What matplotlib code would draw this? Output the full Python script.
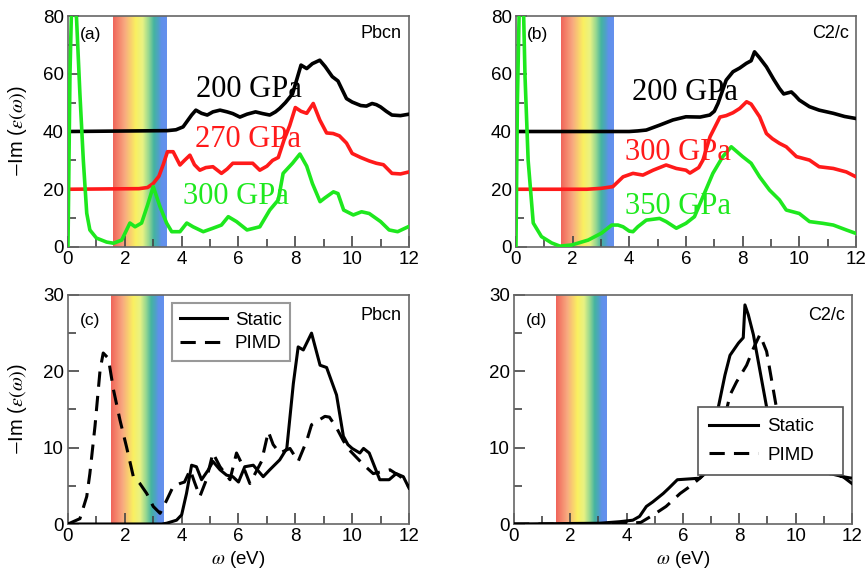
import numpy as np
import matplotlib
matplotlib.use("Agg")
import matplotlib.pyplot as plt
from matplotlib.colors import LinearSegmentedColormap

plt.rcParams['font.family'] = ['Liberation Sans', 'DejaVu Sans']
plt.rcParams['mathtext.fontset'] = 'stix'

# ---------------- data ----------------
a_x_200 = [0, 3.5, 3.8, 4.05, 4.35, 4.5, 4.7, 4.9, 5.1, 5.35, 5.6, 5.8, 6.05, 6.3, 6.6, 6.85, 7.1, 7.3, 7.45, 7.65,
           7.9, 8.05, 8.2, 8.4, 8.6, 8.86, 9.05, 9.3, 9.5, 9.8, 10.0, 10.3, 10.5, 10.7, 10.85, 11.0, 11.2, 11.4, 11.7, 12.0]
a_y_200 = [40, 40.3, 40.6, 41.6, 45.7, 47.4, 46.3, 45.7, 46.8, 47.4, 46.8, 46.2, 45.0, 46.0, 46.8, 46.2, 45.7, 46.8, 48.0, 50.0,
           53.0, 58, 63, 61.8, 63.5, 64.7, 62.5, 59.0, 57.5, 51.4, 50.2, 49.0, 48.8, 49.7, 49.3, 48.5, 47.0, 45.7, 45.5, 46.0]

a_x_270 = [0, 2.5, 2.8, 3.0, 3.2, 3.35, 3.5, 3.7, 3.94, 4.1, 4.29, 4.45, 4.64, 4.85, 5.1, 5.4, 5.6, 5.8, 6.1, 6.5, 6.75,
           7.0, 7.2, 7.4, 7.6, 7.8, 8.0, 8.2, 8.4, 8.63, 8.86, 9.1, 9.33, 9.55, 9.8, 10.0, 10.3, 10.6, 10.85, 11.1, 11.4,
           11.7, 12.0]
a_y_270 = [20, 20.2, 20.6, 22.0, 24.5, 28.5, 33.0, 33.0, 28.4, 30.0, 31.8, 28.5, 26.6, 27.5, 27.8, 25.5, 27.0, 29.0, 29.0,
           29.0, 26.6, 28.0, 30.0, 31.0, 37.0, 42.0, 48.3, 47.0, 46.3, 49.7, 44.0, 39.5, 39.3, 38.5, 36.0, 32.4, 31.0, 29.8,
           29.0, 28.5, 25.5, 25.3, 26.0]

a_x_300 = [0, 0.07, 0.13, 0.3, 0.42, 0.54, 0.66, 0.77, 1.0, 1.36, 1.6, 1.89, 2.18, 2.36, 2.59, 2.8, 3.0, 3.24, 3.47,
           3.65, 3.94, 4.18, 4.4, 4.76, 5.1, 5.4, 5.64, 5.93, 6.3, 6.75, 7.1, 7.4, 7.57, 7.9, 8.16, 8.4, 8.6, 8.87, 9.04,
           9.34, 9.5, 9.7, 10.04, 10.33, 10.6, 11.0, 11.3, 11.6, 11.97]
a_y_300 = [0, 60, 85, 79.4, 53, 30, 11.7, 5.9, 3.1, 1.7, 1.3, 2.4, 8.3, 7.0, 8.3, 14.5, 20.9, 13.9, 8.3,
           5.3, 5.3, 8.3, 7.0, 5.3, 6.5, 7.6, 10.5, 8.8, 5.9, 7.0, 12.8, 16.3, 25.5, 29.0, 32.2, 28.0, 22.0, 15.7, 17.0,
           19.1, 18.5, 12.8, 11.1, 12.2, 11.6, 8.8, 5.9, 5.3, 7.0]

b_x_200 = [0, 4.0, 4.3, 4.6, 5.07, 5.54, 6.0, 6.5, 6.84, 7.0, 7.13, 7.42, 7.66, 7.9, 8.13, 8.3, 8.42, 8.6, 8.84, 9.1,
           9.3, 9.45, 9.72, 9.85, 10.0, 10.36, 10.7, 11.2, 11.6, 12.0]
b_y_200 = [40, 40, 40.2, 40.5, 42.2, 44.0, 45.1, 45.0, 45.7, 47.0, 49.7, 57.8, 60.7, 62.0, 63.6, 64.5, 67.6, 65.5, 62.4, 58.0,
           54.9, 53.0, 53.7, 52.5, 50.9, 48.6, 47.4, 46.3, 45.2, 44.5]

b_x_300 = [0, 2.5, 3.0, 3.42, 3.78, 4.13, 4.48, 4.84, 5.3, 5.66, 6.0, 6.14, 6.45, 6.6, 6.85, 7.2, 7.42, 7.66, 7.9, 8.14,
           8.3, 8.6, 8.84, 9.05, 9.3, 9.54, 9.9, 10.36, 10.7, 11.2, 11.66, 12.0]
b_y_300 = [20, 20, 20.3, 20.9, 24.3, 25.5, 24.9, 26.6, 28.4, 27.2, 26.6, 25.6, 27.5, 30.1, 38.2, 45.0, 45.5, 46.5, 48.0, 50.3,
           49.5, 45.1, 39.3, 37.5, 35.9, 34.7, 31.3, 30.1, 27.8, 27.2, 26.0, 24.3]

b_x_350 = [0, 0.05, 0.12, 0.26, 0.32, 0.43, 0.61, 0.9, 1.26, 1.55, 1.97, 2.55, 3.02, 3.38, 3.6, 3.78, 4.0, 4.13, 4.3,
           4.6, 5.07, 5.3, 5.66, 6.0, 6.3, 6.6, 6.95, 7.3, 7.6, 8.0, 8.3, 8.6, 8.95, 9.3, 9.54, 10.0, 10.36, 10.83, 11.2,
           11.66, 12.0]
b_y_350 = [0, 50, 85, 85, 59, 30, 8.3, 3.6, 1.4, 0.3, 0.7, 2.4, 4.8, 7.6, 7.6, 7.0, 5.5, 5.3, 7.0,
           9.3, 9.9, 8.8, 6.5, 8.2, 10.5, 17.4, 25.5, 31.3, 34.7, 31.3, 29.0, 24.3, 19.7, 16.3, 12.8, 11.6, 8.8, 8.2, 7.6,
           5.9, 4.7]

c_x_static = [0, 3.3, 3.47, 3.82, 4.0, 4.17, 4.35, 4.52, 4.7, 4.94, 5.1, 5.35, 5.58, 5.8, 6.0, 6.22, 6.52, 6.87, 7.1,
              7.45, 7.7, 7.93, 8.1, 8.28, 8.57, 8.87, 9.1, 9.45, 9.69, 9.85, 10.0, 10.27, 10.4, 10.6, 10.97, 11.3, 11.55,
              11.8, 12.0]
c_y_static = [0, 0, 0.1, 0.5, 1.2, 4.0, 7.7, 7.5, 5.8, 7.1, 8.2, 7.1, 6.4, 6.2, 5.5, 7.5, 7.7, 6.2, 7.1,
              8.4, 9.9, 18.4, 23.2, 22.8, 25.0, 20.8, 20.5, 16.9, 11.5, 10.4, 9.9, 9.3, 9.9, 9.3, 5.8, 5.8, 6.6,
              6.2, 4.7]

c_x_pimd = [0, 0.42, 0.66, 0.77, 0.95, 1.13, 1.24, 1.42, 1.6, 1.83, 2.06, 2.3, 2.53, 2.77, 3.0, 3.24, 3.47, 3.7, 3.94,
            4.1, 4.3, 4.45, 4.64, 4.87, 5.1, 5.35, 5.7, 5.93, 6.17, 6.4, 6.81, 7.05, 7.22, 7.45, 7.81, 8.1, 8.4, 8.57,
            9.04, 9.2, 9.45, 9.69, 9.9, 10.39, 10.74, 11.1, 11.33, 11.7, 12.0]
c_y_pimd = [0, 0.7, 3.6, 6.6, 12.8, 20.2, 22.4, 21.7, 17.6, 13.6, 10.1, 6.2, 5.3, 4.0, 2.3, 1.4, 3.1, 4.9, 5.3,
            5.5, 7.1, 5.5, 3.6, 5.8, 9.3, 7.5, 5.8, 9.3, 7.5, 5.3, 8.2, 12.1, 10.4, 9.3, 9.9, 8.2, 10.9, 13.0,
            14.1, 14.0, 12.6, 10.9, 9.7, 7.8, 6.6, 6.9, 7.1, 6.2, 4.9]

d_x_static = [0, 3.04, 3.75, 4.22, 4.46, 4.7, 4.93, 5.3, 5.5, 5.8, 6.2, 6.6, 6.9, 7.1, 7.25, 7.49, 7.67, 7.97, 8.14,
              8.2, 8.32, 8.5, 8.97, 9.3, 9.8, 10.5, 11.0, 11.68, 12.0]
d_y_static = [0, 0.1, 0.3, 0.5, 1.0, 2.3, 2.9, 4.0, 4.7, 5.8, 5.9, 6.0, 7.0, 10.0, 15.2, 19.5, 22.1, 23.7, 24.4,
              28.7, 27.4, 24.8, 15.3, 10.5, 8.0, 7.0, 6.8, 6.2, 5.3]

d_x_pimd = [0, 3.5, 4.5, 4.95, 5.4, 5.9, 6.24, 6.6, 7.0, 7.3, 7.67, 7.9, 8.26, 8.5, 8.73, 8.97, 9.32, 9.7, 10.3, 11.0,
            11.5, 12.0]
d_y_pimd = [0, 0, 0.2, 1.2, 2.3, 4.0, 4.9, 6.0, 7.5, 11.0, 16.9, 18.6, 20.8, 23.0, 24.8, 22.6, 15.2, 10.0, 7.5, 6.8,
            6.3, 6.0]

top_labels_a = ["200 GPa", "270 GPa", "300 GPa"]
top_labels_b = ["200 GPa", "300 GPa", "350 GPa"]
legend_labels = ["Static", "PIMD"]

# ---------------- style ----------------
RED = "#ff1a1a"
GREEN = "#1ee81e"
rainbow = LinearSegmentedColormap.from_list("rb", [
    (0.00, "#f0645a"), (0.22, "#f8aa80"), (0.42, "#faf060"), (0.55, "#e8f283"),
    (0.66, "#98d890"), (0.76, "#45b4a0"), (0.84, "#4ea2c4"), (0.90, "#6090ea"), (1.00, "#6590ee")])

fig = plt.figure(figsize=(8.66, 5.74), dpi=100)

def make_ax(rect, ymax, ystep, yminor):
    ax = fig.add_axes(rect)
    ax.set_xlim(0, 12)
    ax.set_ylim(0, ymax)
    ax.set_xticks(np.arange(0, 13, 2))
    ax.set_xticks(np.arange(1, 12, 2), minor=True)
    ax.set_yticks(np.arange(0, ymax + 0.1, ystep))
    ax.set_yticks(np.arange(yminor, ymax, ystep), minor=True)
    ax.tick_params(which='both', direction='in', top=False, right=False, labelsize=13.5,
                   color='#444444', width=1.2, pad=3)
    ax.tick_params(which='major', length=8)
    ax.tick_params(which='minor', length=6)
    for s in ax.spines.values():
        s.set_color('#666666')
        s.set_linewidth(1.2)
    return ax

def band(ax, x0, x1, ymax):
    grad = np.linspace(0, 1, 256).reshape(1, -1)
    ax.imshow(grad, extent=[x0, x1, 0, ymax], aspect='auto', cmap=rainbow, zorder=1,
              interpolation='bilinear')
    ax.set_xlim(0, 12)
    ax.set_ylim(0, ymax)

ylab = r"$-$Im ($\varepsilon(\omega)$)"

# (a)
ax = make_ax([0.0785, 0.5697, 0.3938, 0.4024], 80, 20, 10)
band(ax, 1.58, 3.45, 80)
ax.plot(a_x_200, a_y_200, color='black', lw=2.6, zorder=3)
ax.plot(a_x_270, a_y_270, color=RED, lw=2.6, zorder=3)
ax.plot(a_x_300, a_y_300, color=GREEN, lw=2.6, zorder=3)
ax.text(4.5, 52, top_labels_a[0], family='Liberation Serif', fontsize=22, color='black', zorder=4)
ax.text(4.47, 34.7, top_labels_a[1], family='Liberation Serif', fontsize=22, color=RED, zorder=4)
ax.text(4.06, 14.9, top_labels_a[2], family='Liberation Serif', fontsize=22, color=GREEN, zorder=4)
ax.text(0.42, 73.5, "(a)", fontsize=12.5, va='center', zorder=4)
ax.text(11.75, 74, "Pbcn", fontsize=13, va='center', ha='right', zorder=4)
ax.set_ylabel(ylab, fontsize=14.5)
ax.yaxis.set_label_coords(-0.115, 0.5)

# (b)
ax = make_ax([0.5958, 0.5697, 0.3926, 0.4024], 80, 20, 10)
band(ax, 1.6, 3.45, 80)
ax.plot(b_x_200, b_y_200, color='black', lw=2.6, zorder=3)
ax.plot(b_x_300, b_y_300, color=RED, lw=2.6, zorder=3)
ax.plot(b_x_350, b_y_350, color=GREEN, lw=2.6, zorder=3)
ax.text(4.1, 50.9, top_labels_b[0], family='Liberation Serif', fontsize=22, color='black', zorder=4)
ax.text(3.84, 30.3, top_labels_b[1], family='Liberation Serif', fontsize=22, color=RED, zorder=4)
ax.text(3.84, 11.6, top_labels_b[2], family='Liberation Serif', fontsize=22, color=GREEN, zorder=4)
ax.text(0.38, 73.5, "(b)", fontsize=12.5, va='center', zorder=4)
ax.text(11.75, 74, "C2/c", fontsize=13, va='center', ha='right', zorder=4)

# (c)
ax = make_ax([0.0785, 0.0871, 0.3938, 0.399], 30, 10, 5)
band(ax, 1.5, 3.35, 30)
ax.plot(c_x_static, c_y_static, color='black', lw=2.2, zorder=3, label=legend_labels[0])
ax.plot(c_x_pimd, c_y_pimd, color='black', lw=2.2, ls=(0, (5, 3)), zorder=3, label=legend_labels[1])
ax.text(0.42, 26.7, "(c)", fontsize=12.5, va='center', zorder=4)
ax.text(11.75, 27.3, "Pbcn", fontsize=13, va='center', ha='right', zorder=4)
ax.set_ylabel(ylab, fontsize=14.5)
ax.yaxis.set_label_coords(-0.115, 0.5)
ax.set_xlabel(r"$\omega$ (eV)", fontsize=13.5, labelpad=3)
leg = ax.legend(loc='upper left', bbox_to_anchor=(0.305, 0.965), fontsize=13.5, handlelength=2.5,
                fancybox=False, framealpha=1, edgecolor='#999999', borderpad=0.45, labelspacing=0.35,
                handletextpad=0.4, borderaxespad=0)
leg.get_frame().set_linewidth(1.5)
leg.set_zorder(5)

# (d)
ax = make_ax([0.5935, 0.0871, 0.3903, 0.399], 30, 10, 5)
band(ax, 1.5, 3.3, 30)
ax.plot(d_x_static, d_y_static, color='black', lw=2.2, zorder=3, label=legend_labels[0])
ax.plot(d_x_pimd, d_y_pimd, color='black', lw=2.2, ls=(0, (5, 3)), zorder=3, label=legend_labels[1])
ax.text(0.42, 26.7, "(d)", fontsize=12.5, va='center', zorder=4)
ax.text(11.75, 27.3, "C2/c", fontsize=13, va='center', ha='right', zorder=4)
ax.set_xlabel(r"$\omega$ (eV)", fontsize=13.5, labelpad=3)
leg = ax.legend(loc='upper left', bbox_to_anchor=(0.544, 0.223, 0.429, 0.288), mode='expand',
                fontsize=13.5, handlelength=2.6, fancybox=False, framealpha=1, edgecolor='#555555',
                borderpad=0.6, labelspacing=0.6, handletextpad=0.5, borderaxespad=0)
leg.get_frame().set_linewidth(1.2)
leg.set_zorder(5)

fig.savefig("out.png", dpi=100)
